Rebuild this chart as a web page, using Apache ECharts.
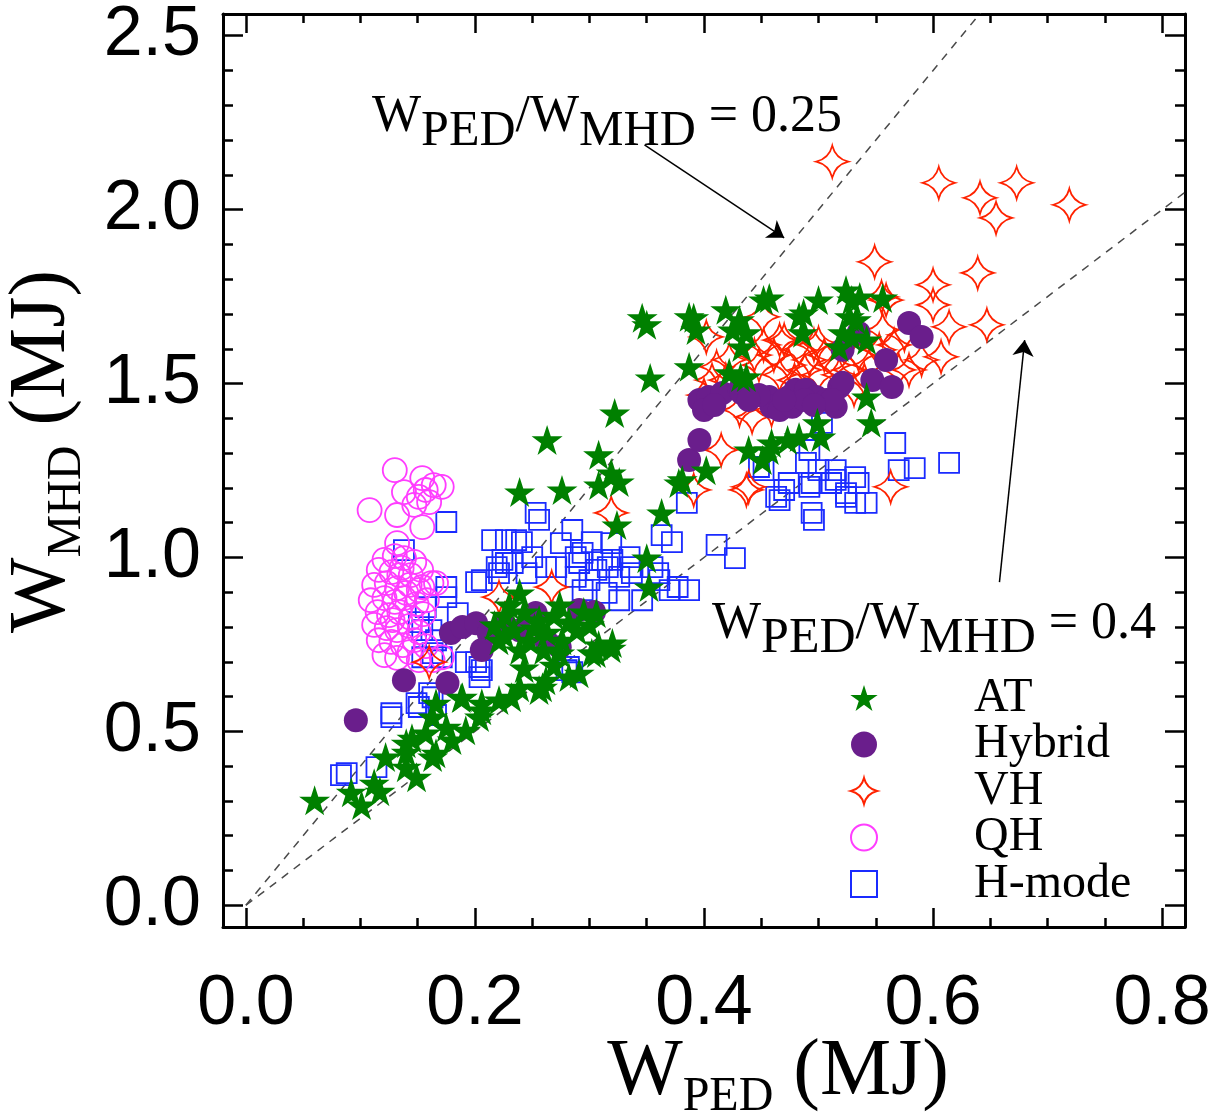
<!DOCTYPE html>
<html>
<head>
<meta charset="utf-8">
<script src="https://cdn.jsdelivr.net/npm/echarts@6/dist/echarts.min.js"></script>
<style>
  html, body { margin: 0; padding: 0; background: #fff; }
  #chart { width: 1214px; height: 1112px; }
</style>
</head>
<body>
<div id="chart"></div>
<script>
// Axis extents and tick positions (MJ)
const xRange = [-0.02, 0.82];
const yRange = [-0.0625, 2.5625];
const xMajorTicks = [0, 0.2, 0.4, 0.6, 0.8];
const xMinorTicks = [0.05, 0.1, 0.15, 0.25, 0.3, 0.35, 0.45, 0.5, 0.55, 0.65, 0.7, 0.75];
const yMajorTicks = [0, 0.5, 1.0, 1.5, 2.0, 2.5];
const yMinorTicks = [0.1, 0.2, 0.3, 0.4, 0.6, 0.7, 0.8, 0.9, 1.1, 1.2, 1.3, 1.4,
                     1.6, 1.7, 1.8, 1.9, 2.1, 2.2, 2.3, 2.4];

// Pedestal-to-total stored energy ratios drawn as dashed guide lines
const ratioLines = [0.25, 0.4];

// Arrows pointing from each ratio label to its guide line: [from, to] in (W_PED, W_MHD)
const arrowSegments = [
  [[0.348, 2.186], [0.470, 1.919]],
  [[0.658, 0.929], [0.680, 1.625]]
];

const legendNames = ['AT', 'Hybrid', 'VH', 'QH', 'H-mode'];

// [W_PED, W_MHD] in MJ for each scenario
const atPoints = [
  [0.060,0.302],[0.092,0.325],[0.101,0.288],[0.112,0.351],[0.117,0.328],[0.140,0.440],[0.140,0.397],
  [0.149,0.368],[0.145,0.480],[0.157,0.495],[0.163,0.541],[0.166,0.437],[0.175,0.512],[0.180,0.475],
  [0.188,0.596],[0.192,0.503],[0.204,0.541],[0.206,0.581],[0.221,0.590],[0.232,0.598],[0.239,0.627],
  [0.256,0.619],[0.262,0.647],[0.282,0.656],[0.302,0.725],[0.308,0.748],[0.319,0.739],[0.243,0.682],
  [0.269,0.690],[0.166,0.581],[0.189,0.598],[0.206,0.561],[0.140,0.466],[0.163,0.426],[0.122,0.426],
  [0.217,0.806],[0.226,0.834],[0.234,0.791],[0.243,0.843],[0.247,0.762],[0.256,0.820],[0.263,0.785],
  [0.269,0.834],[0.276,0.762],[0.282,0.814],[0.289,0.791],[0.300,0.806],[0.239,0.734],[0.260,0.734],
  [0.221,0.762],[0.230,0.863],[0.274,0.863],[0.295,0.843],[0.306,0.840],[0.320,0.754],[0.306,0.725],
  [0.291,0.667],[0.274,0.725],[0.259,0.627],[0.239,0.898],[0.252,0.797],[0.226,0.777],
  [0.239,1.188],[0.276,1.194],[0.308,1.208],[0.326,1.217],[0.324,1.093],[0.363,1.128],[0.378,1.214],
  [0.350,0.998],[0.352,0.915],[0.263,1.338],[0.308,1.295],[0.322,1.415],[0.353,1.516],[0.402,1.251],
  [0.381,1.223],[0.319,1.243],
  [0.346,1.689],[0.350,1.669],[0.387,1.692],[0.393,1.654],[0.387,1.548],[0.419,1.712],[0.425,1.654],
  [0.431,1.683],[0.433,1.605],[0.437,1.646],[0.452,1.740],[0.457,1.746],[0.422,1.531],[0.437,1.519],
  [0.487,1.703],[0.486,1.646],[0.500,1.740],[0.524,1.769],[0.529,1.740],[0.533,1.683],[0.556,1.746],
  [0.529,1.634],[0.542,1.625],[0.518,1.605],[0.542,1.461],[0.546,1.387],[0.499,1.387],[0.502,1.346],
  [0.459,1.329],[0.457,1.309],[0.473,1.338],[0.483,1.346],[0.439,1.309],[0.451,1.280],[0.536,1.749],
  [0.527,1.692],[0.521,1.646],[0.483,1.692],[0.391,1.689],[0.432,1.519]
];

const hybridPoints = [
  [0.096,0.532],[0.138,0.647],[0.176,0.639],[0.179,0.783],[0.189,0.800],[0.201,0.811],[0.212,0.783],
  [0.206,0.734],[0.253,0.840],[0.291,0.849],[0.274,0.742],[0.262,0.762],[0.239,0.791],[0.226,0.806],
  [0.304,0.843],
  [0.387,1.280],[0.396,1.338],[0.396,1.453],[0.404,1.461],[0.416,1.473],[0.431,1.482],[0.433,1.473],
  [0.457,1.461],[0.459,1.433],[0.466,1.424],[0.474,1.461],[0.477,1.433],[0.480,1.482],[0.489,1.482],
  [0.498,1.461],[0.507,1.453],[0.515,1.433],[0.518,1.490],[0.521,1.597],[0.535,1.646],[0.559,1.568],
  [0.547,1.510],[0.564,1.490],[0.579,1.674],[0.590,1.634],[0.521,1.502],[0.512,1.453],[0.448,1.467],
  [0.439,1.453],[0.488,1.453],[0.496,1.438],[0.400,1.424],[0.409,1.438],[0.470,1.453]
];

const vhPoints = [
  [0.512,2.138],[0.605,2.077],[0.641,2.034],[0.673,2.077],[0.655,1.976],[0.719,2.014],[0.549,1.850],
  [0.639,1.818],[0.600,1.784],[0.600,1.726],[0.614,1.663],[0.647,1.669],[0.555,1.749],[0.607,1.577],
  [0.590,1.568],[0.579,1.539],[0.563,1.203],[0.439,1.203],[0.415,1.309],[0.319,1.128],[0.391,1.194],
  [0.267,0.915],[0.221,0.886],[0.160,0.699],[0.451,1.692],[0.402,1.634],[0.411,1.548],[0.419,1.510],
  [0.431,1.424],[0.442,1.404],[0.459,1.424],[0.466,1.625],[0.500,1.617],[0.556,1.654],[0.559,1.740],
  [0.437,1.194],
  [0.452,1.611],[0.461,1.582],[0.470,1.625],[0.474,1.553],[0.483,1.597],[0.492,1.568],[0.496,1.611],
  [0.505,1.582],[0.514,1.553],[0.522,1.611],[0.527,1.539],[0.535,1.582],[0.544,1.553],[0.553,1.597],
  [0.566,1.611],[0.570,1.539],[0.575,1.640],[0.448,1.553],[0.466,1.525],[0.479,1.510],[0.500,1.525],
  [0.518,1.525],[0.540,1.510],[0.444,1.582],[0.422,1.568],[0.488,1.539],[0.531,1.482],[0.407,1.510],
  [0.400,1.467]
];

const qhPoints = [
  [0.130,1.251],[0.154,1.228],[0.171,1.203],[0.138,1.188],[0.157,1.194],[0.160,1.159],[0.147,1.151],
  [0.108,1.136],[0.132,1.122],[0.154,1.087],[0.151,1.174],[0.164,1.208],[0.132,1.041],
  [0.121,0.993],[0.130,1.004],[0.138,0.998],[0.147,0.987],[0.116,0.964],[0.127,0.958],[0.136,0.970],
  [0.144,0.949],[0.153,0.964],[0.112,0.921],[0.123,0.926],[0.132,0.912],[0.143,0.921],[0.151,0.906],
  [0.162,0.926],[0.109,0.877],[0.121,0.883],[0.130,0.872],[0.138,0.883],[0.149,0.866],[0.158,0.877],
  [0.115,0.843],[0.125,0.834],[0.134,0.843],[0.144,0.826],[0.155,0.837],[0.112,0.806],[0.123,0.797],
  [0.132,0.791],[0.143,0.803],[0.151,0.785],[0.116,0.762],[0.127,0.757],[0.137,0.748],[0.147,0.762],
  [0.157,0.745],[0.121,0.719],[0.132,0.711],[0.143,0.728],[0.151,0.705],[0.163,0.705],[0.171,0.713],
  [0.166,0.926],[0.154,0.915],[0.134,0.949],[0.140,0.898],[0.128,0.820]
];

const hmodePoints = [
  [0.083,0.374],[0.088,0.380],[0.114,0.397],[0.127,0.541],[0.149,0.581],[0.163,0.598],[0.166,0.547],
  [0.204,0.685],[0.204,0.656],[0.280,0.676],[0.285,0.670],[0.163,0.725],[0.171,0.713],[0.154,0.791],
  [0.175,1.102],[0.138,1.021],[0.215,1.050],[0.227,1.050],[0.236,1.050],[0.219,0.972],[0.201,0.929],
  [0.175,0.915],[0.175,0.886],[0.185,0.840],[0.157,0.857],[0.151,0.814],[0.162,0.791],[0.166,0.762],
  [0.201,0.699],[0.192,0.699],[0.127,0.552],[0.151,0.570],[0.160,0.610],[0.154,0.713],
  [0.253,1.128],[0.256,1.108],[0.285,1.079],[0.241,1.044],[0.250,1.001],[0.294,1.013],[0.227,0.984],
  [0.271,0.972],[0.275,1.041],[0.302,1.044],[0.363,1.064],[0.372,1.044],[0.385,1.157],[0.411,1.036],
  [0.427,0.998],[0.224,0.993],[0.233,0.984],[0.262,0.972],[0.288,1.001],[0.291,0.984],[0.311,0.993],
  [0.320,0.993],[0.335,1.001],[0.355,0.972],[0.206,0.935],[0.221,0.955],[0.245,0.955],[0.288,0.944],
  [0.300,0.935],[0.306,0.964],[0.326,0.944],[0.337,0.955],[0.361,0.935],[0.370,0.906],[0.387,0.906],
  [0.294,0.906],[0.315,0.898],[0.326,0.877],[0.346,0.877],[0.206,0.676],[0.282,0.685],[0.316,0.972],
  [0.336,0.972],[0.360,0.955],[0.377,0.915],[0.319,1.041],
  [0.503,1.387],[0.567,1.329],[0.614,1.272],[0.584,1.257],[0.570,1.251],[0.532,1.231],[0.515,1.251],
  [0.494,1.214],[0.511,1.214],[0.532,1.157],[0.542,1.157],[0.496,1.108],[0.463,1.174],[0.474,1.214],
  [0.452,1.251],[0.470,1.194],[0.524,1.185],[0.492,1.203],[0.492,1.309],[0.489,1.272],[0.448,1.260],
  [0.466,1.165],[0.500,1.251],[0.515,1.223],[0.535,1.214],[0.524,1.174],[0.494,1.128]
];

// Marker shapes
const starPath = 'path://M0,-10 L2.245,-3.09 L9.511,-3.09 L3.633,1.18 L5.878,8.09 L0,3.82 ' +
                 'L-5.878,8.09 L-3.633,1.18 L-9.511,-3.09 L-2.245,-3.09 Z';
const sparklePath = 'path://M0,-10 Q2,-2 10,0 Q2,2 0,10 Q-2,2 -10,0 Q-2,-2 0,-10 Z';
const squarePath = 'path://M0,0 L10,0 L10,10 L0,10 Z';

const serif = 'Liberation Serif';
const sans = 'Liberation Sans';
const fmt = v => v.toFixed(1);

// Rich text pieces: subscripts are pushed down by top padding
const titleRich = {
  w: { fontFamily: serif, fontSize: 80, lineHeight: 80, verticalAlign: 'middle', color: '#000' },
  s: { fontFamily: serif, fontSize: 48, lineHeight: 48, verticalAlign: 'middle',
       padding: [48, 0, 0, 0], color: '#000' }
};
const noteRich = {
  m: { fontFamily: serif, fontSize: 52, lineHeight: 52, fontWeight: 'normal',
       verticalAlign: 'middle', color: '#000' },
  s: { fontFamily: serif, fontSize: 50, lineHeight: 50, fontWeight: 'normal',
       verticalAlign: 'middle', padding: [30, 0, 0, 0], color: '#000' }
};

const frameLine = { show: true, onZero: false, lineStyle: { color: '#000', width: 3 } };
const tickStyle = { color: '#000', width: 2.5 };

function xAxisDef(position, ticks, len, withLine, withLabel) {
  const ax = {
    type: 'value', min: xRange[0], max: xRange[1], position,
    axisLine: withLine ? frameLine : { show: false, onZero: false },
    axisTick: { show: true, inside: true, length: len, customValues: ticks, lineStyle: tickStyle },
    axisLabel: { show: false },
    splitLine: { show: false }
  };
  if (withLabel) {
    ax.axisLabel = {
      show: true, customValues: xMajorTicks, formatter: fmt,
      fontFamily: sans, fontSize: 70, color: '#000', margin: 43
    };
    ax.name = '{w|W}{s|PED}{w| (MJ)}';
    ax.nameLocation = 'middle';
    ax.nameGap = 106;
    ax.nameMoveOverlap = false;
    ax.nameTextStyle = { rich: titleRich, padding: [0, 0, 0, 148] };
  }
  return ax;
}

function yAxisDef(position, ticks, len, withLine, withLabel) {
  const ax = {
    type: 'value', min: yRange[0], max: yRange[1], position,
    axisLine: withLine ? frameLine : { show: false, onZero: false },
    axisTick: { show: true, inside: true, length: len, customValues: ticks, lineStyle: tickStyle },
    axisLabel: { show: false },
    splitLine: { show: false }
  };
  if (withLabel) {
    ax.axisLabel = {
      show: true, customValues: yMajorTicks, formatter: fmt,
      fontFamily: sans, fontSize: 70, color: '#000', margin: 22
    };
    ax.name = '{w|W}{s|MHD}{w| (MJ)}';
    ax.nameLocation = 'middle';
    ax.nameGap = 140;
    ax.nameMoveOverlap = false;
    ax.nameTextStyle = { rich: titleRich, padding: [0, 0, 0, 38] };
  }
  return ax;
}

const hollow = c => ({ color: 'rgba(0,0,0,0)', borderColor: c, borderWidth: 1.8, opacity: 1 });
const solid = c => ({ color: c, opacity: 1 });

const guideSeries = ratioLines.map((r, i) => {
  const s = {
    name: 'ratio ' + r,
    type: 'line',
    data: [[0, 0], [xRange[1], xRange[1] / r]],
    showSymbol: false,
    silent: true,
    clip: true,
    z: 1,
    lineStyle: { color: '#4a4a4a', width: 1.5, type: [8, 7] }
  };
  if (i === 0) {
    s.markLine = {
      silent: true,
      symbol: ['none', 'arrow'],
      symbolSize: 16,
      label: { show: false },
      lineStyle: { color: '#000', width: 1.5, type: 'solid' },
      data: arrowSegments.map(seg => [{ coord: seg[0] }, { coord: seg[1] }])
    };
  }
  return s;
});

// Ratio labels placed beside their arrows
const ratioLabels = [
  { text: '{m|W}{s|PED}{m|/W}{s|MHD}{m| = 0.25}', left: 372, top: 91 },
  { text: '{m|W}{s|PED}{m|/W}{s|MHD}{m| = 0.4}', left: 712, top: 598 }
];

const option = {
  animation: false,
  backgroundColor: '#fff',
  grid: { left: 223, top: 14, width: 962, height: 913, containLabel: false, outerBoundsMode: 'none' },
  title: ratioLabels.map(l => ({
    text: l.text, left: l.left, top: l.top, padding: 0,
    textStyle: { fontWeight: 'normal', rich: noteRich }
  })),
  xAxis: [
    xAxisDef('bottom', xMajorTicks, 19, true, true),
    xAxisDef('top', xMajorTicks, 19, true, false),
    xAxisDef('bottom', xMinorTicks, 9, false, false),
    xAxisDef('top', xMinorTicks, 9, false, false)
  ],
  yAxis: [
    yAxisDef('left', yMajorTicks, 20, true, true),
    yAxisDef('right', yMajorTicks, 20, true, false),
    yAxisDef('left', yMinorTicks, 10, false, false),
    yAxisDef('right', yMinorTicks, 10, false, false)
  ],
  legend: {
    data: legendNames,
    orient: 'vertical',
    left: 845, top: 669,
    itemWidth: 210, itemHeight: 26, itemGap: -1.5,
    selectedMode: false,
    textStyle: { fontFamily: serif, fontSize: 48, lineHeight: 48, color: '#000' }
  },
  series: [
    ...guideSeries,
    { name: 'H-mode', type: 'scatter', data: hmodePoints, symbol: squarePath, symbolSize: 20,
      itemStyle: hollow('#1a2bff'), z: 2 },
    { name: 'QH', type: 'scatter', data: qhPoints, symbol: 'circle', symbolSize: 24,
      itemStyle: hollow('#ff3dff'), z: 3 },
    { name: 'VH', type: 'scatter', data: vhPoints, symbol: sparklePath, symbolSize: 32,
      itemStyle: hollow('#ff2200'), z: 4 },
    { name: 'Hybrid', type: 'scatter', data: hybridPoints, symbol: 'circle', symbolSize: 24,
      itemStyle: solid('#6a1e8c'), z: 5 },
    { name: 'AT', type: 'scatter', data: atPoints, symbol: starPath, symbolSize: [31, 30],
      itemStyle: solid('#008000'), z: 6 }
  ]
};

const chart = echarts.init(document.getElementById('chart'), null, { renderer: 'canvas' });
chart.setOption(option);
</script>
</body>
</html>
